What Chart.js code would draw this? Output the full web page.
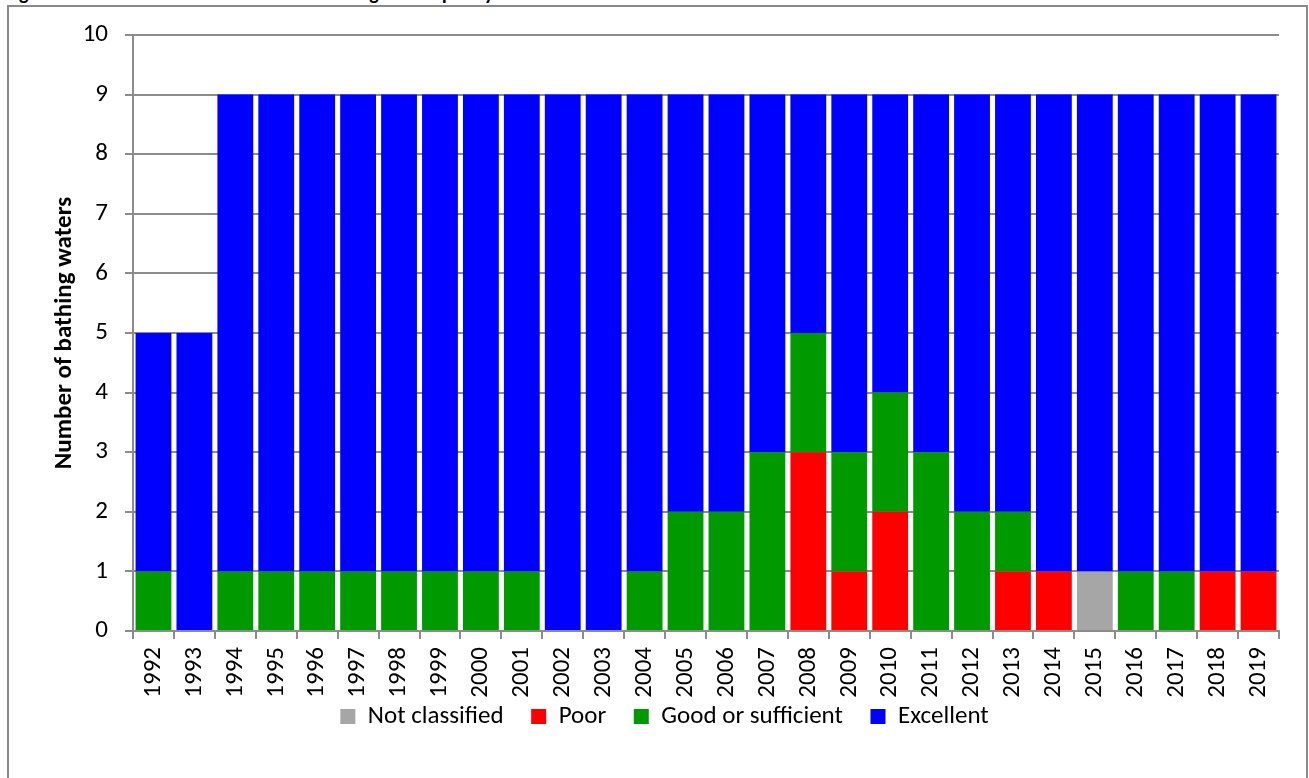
<!DOCTYPE html>
<html>
<head>
<meta charset="utf-8">
<script src="https://cdn.jsdelivr.net/npm/chart.js"></script>
<style>
  body { margin: 0; background: #fff; font-family: Carlito, Lato, sans-serif; }
  #wrap { position: relative; width: 1309px; height: 778px; overflow: hidden; }
  #titulo { position: absolute; left: 5px; top: -17px; font-size: 20px; line-height: 20px; font-weight: bold; white-space: nowrap; }
  #marco { position: absolute; left: 7px; top: 5px; width: 1297px; height: 800px; border: 2px solid #8a8a8a; box-sizing: content-box; }
  #lienzo { position: absolute; left: 0; top: 0; }
</style>
</head>
<body>
<div id="wrap">
  <div id="titulo">Figure 1: Number of beaches and the bathing water quality</div>
  <div id="marco"></div>
  <canvas id="lienzo" width="1309" height="778"></canvas>
</div>
<script>
// Años y número de aguas de baño por clasificación
const anios = ['1992','1993','1994','1995','1996','1997','1998','1999','2000','2001','2002','2003','2004','2005',
               '2006','2007','2008','2009','2010','2011','2012','2013','2014','2015','2016','2017','2018','2019'];
const noClasificado = [0,0,0,0,0,0,0,0,0,0,0,0,0,0,0,0,0,0,0,0,0,0,0,1,0,0,0,0];
const pobre         = [0,0,0,0,0,0,0,0,0,0,0,0,0,0,0,0,3,1,2,0,0,1,1,0,0,0,1,1];
const bueno         = [1,0,1,1,1,1,1,1,1,1,0,0,1,2,2,3,2,2,2,3,2,1,0,0,1,1,0,0];
const excelente     = [4,5,8,8,8,8,8,8,8,8,9,9,8,7,7,6,4,6,5,6,7,7,8,8,8,8,8,8];
const ticksY = [0,1,2,3,4,5,6,7,8,9,10];

const gris = '#8c8c8c';
const fuente = 'Carlito, Lato, sans-serif';

const ctx = document.getElementById('lienzo').getContext('2d');
new Chart(ctx, {
    type: 'bar',
    data: {
        labels: anios,
        datasets: [
            { label: 'Not classified', data: noClasificado, backgroundColor: '#a6a6a6' },
            { label: 'Poor', data: pobre, backgroundColor: '#ff0000' },
            { label: 'Good or sufficient', data: bueno, backgroundColor: '#009900' },
            { label: 'Excellent', data: excelente, backgroundColor: '#0000ff' }
        ]
    },
    options: {
        responsive: false,
        animation: false,
        barPercentage: 0.875,
        categoryPercentage: 1,
        layout: { padding: { left: 50, right: 30, top: 35, bottom: 39 } },
        plugins: {
            tooltip: { enabled: false },
            legend: {
                position: 'bottom',
                labels: {
                    boxWidth: 15, boxHeight: 15, padding: 5,
                    color: '#000',
                    font: { family: fuente, size: 25 },
                    // espacio extra entre entradas de la leyenda
                    generateLabels: chart => Chart.defaults.plugins.legend.labels.generateLabels(chart)
                        .map((l, i, arr) => ({ ...l, text: i < arr.length - 1 ? l.text + '    ' : l.text }))
                }
            }
        },
        scales: {
            x: {
                stacked: true,
                afterFit: s => { s.height = 68; },
                border: { color: gris, width: 2 },
                grid: { drawOnChartArea: false, color: gris, lineWidth: 2, tickLength: 8, offset: true },
                ticks: { minRotation: 90, maxRotation: 90, padding: 8, color: '#000', font: { family: fuente, size: 25 } }
            },
            y: {
                stacked: true,
                min: 0, max: 10,
                afterFit: s => { s.width = 83; },
                afterBuildTicks: s => { s.ticks = ticksY.map(v => ({ value: v })); },
                border: { color: gris, width: 2 },
                grid: { color: gris, lineWidth: 2, tickLength: 8 },
                ticks: { padding: 17, color: '#000', font: { family: fuente, size: 25 } },
                title: {
                    display: true, text: 'Number of bathing waters', color: '#000', padding: 0,
                    font: { family: fuente, size: 25, weight: 'bold' }
                }
            }
        }
    }
});
</script>
</body>
</html>
